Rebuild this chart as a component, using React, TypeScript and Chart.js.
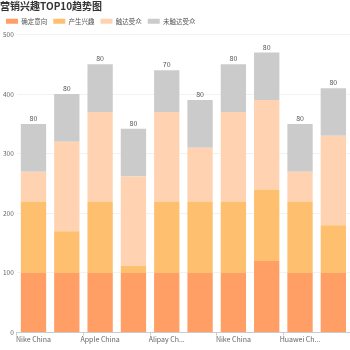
import React, { useEffect, useRef } from "react";
import { Chart, registerables } from "chart.js";

Chart.register(...registerables);

const categories = [
  "Nike China",
  "Adidas China",
  "Apple China",
  "Huawei China",
  "Alipay China",
  "Apple China",
  "Nike China",
  "Alipay China",
  "Huawei China",
  "Adidas China",
];
const seriesNames = ["确定意向", "产生兴趣", "触达受众", "未触达受众"];
const confirmed = [100, 100, 100, 100, 100, 100, 100, 120, 100, 100];
const interested = [120, 70, 120, 12, 120, 120, 120, 120, 120, 80];
const reached = [50, 150, 150, 150, 150, 90, 150, 150, 50, 150];
const unreached = [80, 80, 80, 80, 70, 80, 80, 80, 80, 80];
const yTicks = [0, 100, 200, 300, 400, 500];
const colors = ["#FF9F66", "#FEC06F", "#FFD3B2", "#CBCBCB"];

const FONT = "'Noto Sans CJK SC', 'Noto Sans', sans-serif";

const topLabelPlugin = {
  id: "topLabels",
  afterDatasetsDraw(chart: any) {
    const ctx = chart.ctx;
    const last = chart.data.datasets.length - 1;
    const meta = chart.getDatasetMeta(last);
    ctx.save();
    ctx.font = `7px ${FONT}`;
    ctx.fillStyle = "#555";
    ctx.textAlign = "center";
    ctx.textBaseline = "bottom";
    meta.data.forEach((el: any, i: number) => {
      const v = chart.data.datasets[last].data[i];
      ctx.fillText(String(v), el.x, el.y - 2);
    });
    ctx.restore();
  },
};

function truncate(s: string) {
  return s.length > 11 ? s.slice(0, 9) + "..." : s;
}

export default function App() {
  const ref = useRef<HTMLCanvasElement>(null);
  useEffect(() => {
    document.body.style.margin = "0";
    const data = [confirmed, interested, reached, unreached];
    const chart = new Chart(ref.current!, {
      type: "bar",
      data: {
        labels: categories,
        datasets: seriesNames.map((n, i) => ({
          label: n,
          data: data[i],
          backgroundColor: colors[i],
          borderWidth: 0,
          categoryPercentage: 0.76,
          barPercentage: 1,
        })),
      },
      options: {
        animation: false,
        responsive: false,
        devicePixelRatio: 1,
        layout: { padding: { left: 0, right: 0, top: 0, bottom: 6 } },
        plugins: {
          title: {
            display: true,
            text: "营销兴趣TOP10趋势图",
            align: "start",
            color: "#333",
            font: { family: FONT, size: 10, weight: "bold" },
            padding: { top: 0, bottom: 0 },
          },
          legend: {
            display: true,
            align: "start",
            labels: {
              boxWidth: 12,
              boxHeight: 5,
              padding: 6,
              color: "#555",
              font: { family: FONT, size: 6.5 },
            },
          },
          tooltip: { enabled: false },
        },
        scales: {
          x: {
            stacked: true,
            border: { display: true, color: "#ccc" },
            grid: {
              display: true,
              drawOnChartArea: false,
              offset: true,
              tickLength: 3,
              color: (c: any) => (c.index % 2 === 0 ? "#ccc" : "rgba(0,0,0,0)"),
            },
            ticks: {
              autoSkip: false,
              maxRotation: 0,
              padding: 0,
              color: "#666",
              font: { family: FONT, size: 7 },
              callback: (_v: any, i: number) => (i % 2 === 0 ? truncate(categories[i]) : ""),
            },
          },
          y: {
            stacked: true,
            min: 0,
            max: 500,
            afterBuildTicks: (axis: any) => {
              axis.ticks = yTicks.map((v) => ({ value: v }));
            },
            border: { display: false },
            grid: { color: "#f2f2f2", drawTicks: false },
            ticks: {
              padding: 3,
              color: "#666",
              font: { family: FONT, size: 6.5 },
            },
          },
        },
      },
      plugins: [topLabelPlugin],
    } as any);
    return () => chart.destroy();
  }, []);
  return <canvas ref={ref} width={350} height={350} style={{ display: "block" }} />;
}
